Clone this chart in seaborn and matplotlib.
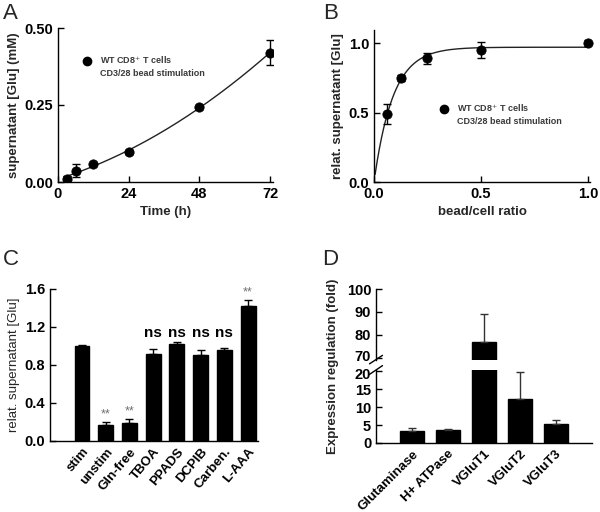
import numpy as np
import pandas as pd
import matplotlib
matplotlib.use("Agg")
import matplotlib.pyplot as plt
import matplotlib.transforms as mtrans
from matplotlib.lines import Line2D
import seaborn as sns

# ---------------- data ----------------
time_h = [3, 6, 12, 24, 48, 72]
glu_mM = [0.010, 0.037, 0.057, 0.097, 0.242, 0.420]
glu_err = [0.008, 0.022, 0.006, 0.006, 0.006, 0.040]

ratio = [0.0625, 0.125, 0.25, 0.5, 1.0]
rel_glu = [0.49, 0.75, 0.89, 0.95, 1.00]
rel_err = [0.07, 0.02, 0.04, 0.06, 0.02]

c_cats = ["stim", "unstim", "Gln-free", "TBOA", "PPADS", "DCPIB", "Carben.", "L-AAA"]
c_vals = [1.00, 0.17, 0.19, 0.92, 1.02, 0.91, 0.96, 1.42]
c_err = [0.01, 0.03, 0.045, 0.045, 0.025, 0.045, 0.02, 0.06]
c_sig = ["", "**", "**", "ns", "ns", "ns", "ns", "**"]

d_cats = ["Glutaminase", "H+ ATPase", "VGluT1", "VGluT2", "VGluT3"]
d_vals = [3.3, 3.7, 77.0, 12.3, 5.2]
d_err = [1.0, 0.3, 12.0, 7.5, 1.3]

# ---------------- style ----------------
sns.set_style("white")
plt.rcParams["font.family"] = ["Liberation Sans", "DejaVu Sans"]
plt.rcParams["xtick.direction"] = "in"
plt.rcParams["ytick.direction"] = "in"
plt.rcParams["axes.linewidth"] = 1.0

TICK = 10.5
LAB = 9.5

fig = plt.figure(figsize=(6.0, 5.12), dpi=100)


def style_axes(ax):
    sns.despine(ax=ax)
    for s in ("left", "bottom"):
        ax.spines[s].set_color("black")
    ax.tick_params(axis="both", which="both", length=4, width=1, colors="black",
                   labelsize=TICK, left=True, bottom=True)
    for lab in ax.get_xticklabels() + ax.get_yticklabels():
        lab.set_fontweight("bold")


def add_legend(ax, loc):
    handles = [Line2D([], [], marker="o", color="black", ls="none", ms=6),
               Line2D([], [], ls="none")]
    labels = ["WT CD8$^{+}$ T cells", "CD3/28 bead stimulation"]
    leg = ax.legend(handles, labels, loc="upper left", bbox_to_anchor=loc,
                    frameon=False, fontsize=6.5, handlelength=0.8,
                    handletextpad=1.1, labelspacing=0.3, borderaxespad=0)
    for t in leg.get_texts():
        t.set_fontweight("bold")
        t.set_color("#3a3a3a")


# ---------------- Panel A ----------------
axA = fig.add_axes([58 / 600, 1 - 182 / 512, 215 / 600, 154 / 512])
coef = np.polyfit(time_h, glu_mM, 2)
tt = np.linspace(2, 72, 200)
sns.lineplot(x=tt, y=np.polyval(coef, tt), ax=axA, color="#222222", lw=1)
axA.errorbar(time_h, glu_mM, yerr=glu_err, fmt="none", ecolor="black",
             elinewidth=1, capsize=3, capthick=1)
sns.scatterplot(x=time_h, y=glu_mM, ax=axA, color="black", s=45,
                edgecolor="black", zorder=5)
axA.set_xlim(0, 73)
axA.set_ylim(0, 0.5)
axA.set_xticks([0, 24, 48, 72])
axA.set_yticks([0, 0.25, 0.5])
axA.set_yticklabels(["0.00", "0.25", "0.50"])
axA.set_xlabel("Time (h)", fontsize=LAB, fontweight="bold", labelpad=4)
axA.set_ylabel("supernatant [Glu] (mM)", fontsize=LAB, fontweight="bold", labelpad=3)
style_axes(axA)
add_legend(axA, (0.1, 0.85))

# ---------------- Panel B ----------------
axB = fig.add_axes([374 / 600, 1 - 182 / 512, 216 / 600, 152 / 512])
rr = np.array(ratio)
yy = np.array(rel_glu)
best = None
for a in np.linspace(0.9, 1.05, 61):
    for k in np.linspace(5, 20, 151):
        res = np.sum((a * (1 - np.exp(-k * rr)) - yy) ** 2)
        if best is None or res < best[0]:
            best = (res, a, k)
_, a_fit, k_fit = best
xx = np.linspace(0.005, 1.0, 300)
sns.lineplot(x=xx, y=a_fit * (1 - np.exp(-k_fit * xx)), ax=axB, color="#222222", lw=1)
axB.errorbar(ratio, rel_glu, yerr=rel_err, fmt="none", ecolor="black",
             elinewidth=1, capsize=3, capthick=1)
sns.scatterplot(x=ratio, y=rel_glu, ax=axB, color="black", s=45,
                edgecolor="black", zorder=5, clip_on=False)
axB.set_xlim(0, 1.01)
axB.set_ylim(0, 1.094)
axB.set_xticks([0, 0.5, 1.0])
axB.set_yticks([0, 0.5, 1.0])
axB.set_xlabel("bead/cell ratio", fontsize=LAB, fontweight="bold", labelpad=4)
axB.set_ylabel("relat. supernatant [Glu]", fontsize=LAB, fontweight="bold", labelpad=3)
style_axes(axB)
add_legend(axB, (0.29, 0.545))

# ---------------- Panel C ----------------
axC = fig.add_axes([50 / 600, 1 - 441 / 512, 208 / 600, 152 / 512])
dfC = pd.DataFrame({"cat": c_cats, "val": c_vals})
sns.barplot(data=dfC, x="cat", y="val", ax=axC, color="black", width=0.63,
            edgecolor="black", saturation=1)
xpos = np.arange(len(c_cats))
axC.errorbar(xpos, c_vals, yerr=[np.zeros(len(c_err)), c_err], fmt="none",
             ecolor="black", elinewidth=1, capsize=3, capthick=1)
for x, v, e, s in zip(xpos, c_vals, c_err, c_sig):
    if s == "ns":
        axC.text(x, 1.09, s, ha="center", va="baseline", fontsize=11,
                 fontweight="bold", color="black")
    elif s:
        axC.text(x, v + e + 0.08, s, ha="center", va="center", fontsize=9,
                 color="#707070", clip_on=False)
axC.set_xlim(-1.35, 7.42)
axC.set_ylim(0, 1.6)
axC.set_yticks([0, 0.4, 0.8, 1.2, 1.6])
axC.set_xlabel("")
axC.set_ylabel("relat. supernatant [Glu]", fontsize=LAB, labelpad=3)
style_axes(axC)
axC.tick_params(axis="x", length=0)
for lab in axC.get_xticklabels():
    lab.set_rotation(50)
    lab.set_ha("right")
    lab.set_rotation_mode("anchor")
    lab.set_fontsize(9.5)

# ---------------- Panel D (broken axis) ----------------
axDt = fig.add_axes([376 / 600, 1 - 359.6 / 512, 216 / 600, 70.6 / 512])
axDb = fig.add_axes([376 / 600, 1 - 443 / 512, 216 / 600, 73 / 512])
dfD = pd.DataFrame({"cat": d_cats, "val": d_vals})
xd = np.arange(len(d_cats))
for ax in (axDt, axDb):
    sns.barplot(data=dfD, x="cat", y="val", ax=ax, color="black", width=0.65,
                edgecolor="black", saturation=1)
    ax.errorbar(xd, d_vals, yerr=[np.zeros(len(d_err)), d_err], fmt="none",
                ecolor="#333333", elinewidth=1, capsize=3, capthick=1)
    ax.set_xlim(-1, 5)
    ax.set_xlabel("")
    ax.set_ylabel("")
axDt.set_ylim(69.3, 100)
axDt.set_yticks([70, 80, 90, 100])
axDb.set_ylim(0, 20.3)
axDb.set_yticks([0, 5, 10, 15, 20])
style_axes(axDt)
style_axes(axDb)
axDt.spines["bottom"].set_visible(False)
axDt.tick_params(axis="x", bottom=False, labelbottom=False)
axDb.tick_params(axis="x", length=0)
for lab in axDb.get_xticklabels():
    lab.set_rotation(45)
    lab.set_ha("right")
    lab.set_rotation_mode("anchor")
    lab.set_fontsize(9.5)
# nudge the two labels at the break apart slightly
fig.canvas.draw()
up = mtrans.ScaledTranslation(0, 2 / 100, fig.dpi_scale_trans)
down = mtrans.ScaledTranslation(0, -2 / 100, fig.dpi_scale_trans)
lt = axDt.get_yticklabels()[0]
lt.set_transform(lt.get_transform() + up)
lb = axDb.get_yticklabels()[-1]
lb.set_transform(lb.get_transform() + down)
# break marks
kw = dict(color="black", lw=1, clip_on=False)
axDt.plot([-0.03, 0.03], [-0.06, 0.06], transform=axDt.transAxes, **kw)
axDb.plot([-0.03, 0.03], [0.94, 1.06], transform=axDb.transAxes, **kw)
fig.text(333 / 600, 1 - 366 / 512, "Expression regulation (fold)", rotation=90,
         ha="center", va="center", fontsize=LAB, fontweight="bold")

# ---------------- panel letters ----------------
for x, y, s in [(3, 3, "A"), (323, 3, "B"), (3, 249, "C"), (322, 249, "D")]:
    fig.text(x / 600, 1 - y / 512, s, ha="left", va="top", fontsize=16)

fig.savefig("out.png", dpi=100, facecolor="white")
